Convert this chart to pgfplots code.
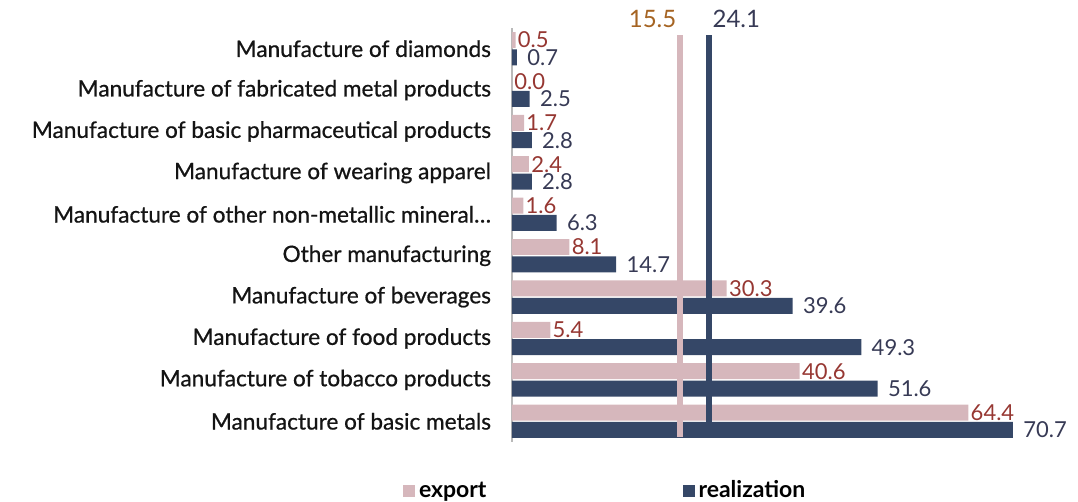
\documentclass[border=0pt]{standalone}
\usepackage{pgfplots}
\pgfplotsset{compat=1.18}
\usepackage{fontspec}
\setmainfont{Lato}
\newfontfamily\catfont{Lato}[FakeBold=0.7]
\definecolor{expbar}{RGB}{214,183,188}
\definecolor{reabar}{RGB}{53,71,103}
\definecolor{explab}{RGB}{150,55,50}
\definecolor{realab}{RGB}{55,58,85}
\definecolor{avglab}{RGB}{165,100,35}

\begin{document}
\begin{tikzpicture}
\useasboundingbox (-256pt,-30pt) rectangle (283pt,221pt);
\begin{axis}[
  at={(0,0)}, anchor=south west,
  scale only axis, width=250.5pt, height=207pt,
  clip=false,
  xbar, bar width=0.386,
  xmin=0, xmax=70.7, ymin=-0.5, ymax=9.5,
  axis x line=none, axis y line=left,
  axis line style={-, draw=gray!55, line width=0.6pt},
  ytick={0,...,9}, major tick length=0,
  yticklabels={
    Manufacture of basic metals,
    Manufacture of tobacco products,
    Manufacture of food products,
    Manufacture of beverages,
    Other manufacturing,
    Manufacture of other non-metallic mineral\ldots,
    Manufacture of wearing apparel,
    Manufacture of basic pharmaceutical products,
    Manufacture of fabricated metal products,
    Manufacture of diamonds},
  yticklabel style={font=\catfont\fontsize{11.3}{13}\selectfont, text=black!92, xshift=-7pt},
  /pgf/number format/assume math mode=true,
  point meta=x,
  nodes near coords={\pgfmathprintnumber[fixed,fixed zerofill,precision=1]{\pgfplotspointmeta}},
  legend style={draw=none, at={(0.188,-0.118)}, anchor=center, legend columns=2,
    font=\bfseries\fontsize{11.5}{13}\selectfont,
    /tikz/every even column/.append style={column sep=96pt}},
  legend image code/.code={\fill[#1] (0pt,-3pt) rectangle (6pt,3pt);},
]
% export
\addplot[fill=expbar, draw=none, bar shift=0.21,
  every node near coord/.append style={text=explab, anchor=west, inner sep=1pt,
    font=\fontsize{11}{12}\selectfont}]
  coordinates {
  (64.4,0) (40.6,1) (5.4,2) (30.3,3) (8.1,4)
  (1.6,5) (2.4,6) (1.7,7) (0.0,8) (0.5,9)
};
% realization
\addplot[fill=reabar, draw=none, bar shift=-0.21,
  every node near coord/.append style={text=realab, anchor=west, inner sep=1pt, xshift=4pt,
    font=\fontsize{11}{12}\selectfont}]
  coordinates {
  (70.7,0) (51.6,1) (49.3,2) (39.6,3) (14.7,4)
  (6.3,5) (2.8,6) (2.8,7) (2.5,8) (0.7,9)
};
\legend{export,realization}
% average lines
\addplot[forget plot, draw=expbar, line width=3pt, nodes near coords={}, sharp plot]
  coordinates {(23.7,-0.37) (23.7,9.34)}
  node[pos=1, anchor=south east, xshift=3pt, yshift=-1.5pt, text=avglab,
    font=\fontsize{12}{13}\selectfont] {15.5};
\addplot[forget plot, draw=reabar, line width=3pt, nodes near coords={}, sharp plot]
  coordinates {(27.8,-0.04) (27.8,9.34)}
  node[pos=1, anchor=south west, xshift=-3pt, yshift=-1.5pt, text=realab,
    font=\fontsize{12}{13}\selectfont] {24.1};
\end{axis}
\end{tikzpicture}
\end{document}
